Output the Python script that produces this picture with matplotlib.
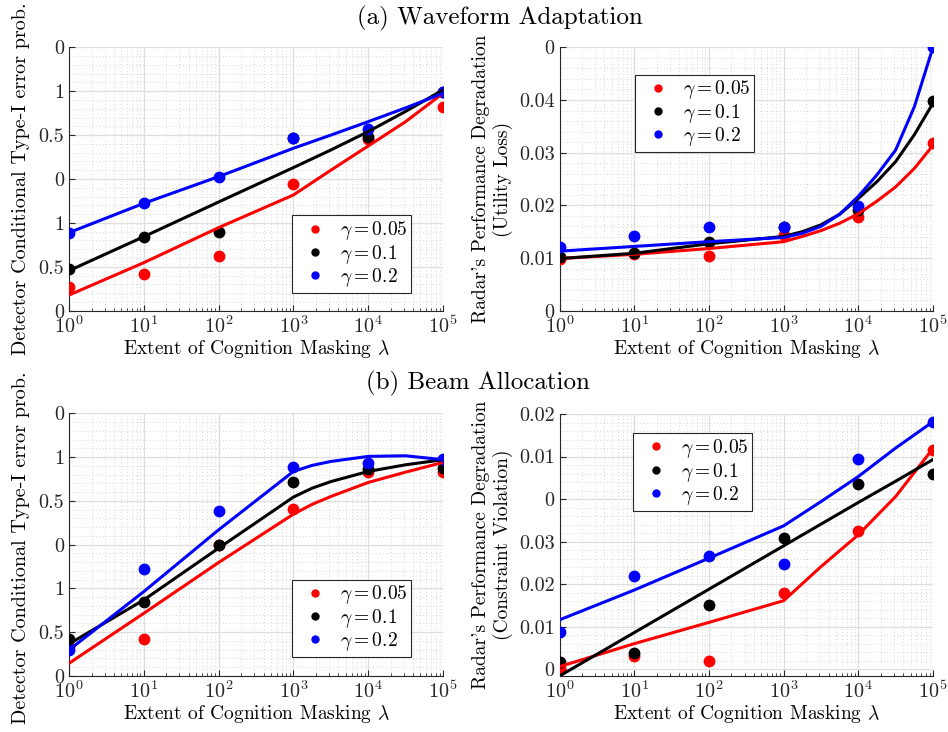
import numpy as np
import matplotlib
matplotlib.use("Agg")
import matplotlib.pyplot as plt
from matplotlib.lines import Line2D
from matplotlib.ticker import FixedLocator, AutoMinorLocator, LogLocator, NullFormatter

plt.rcParams['font.family'] = 'serif'
plt.rcParams['font.serif'] = ['cmr10']
plt.rcParams['mathtext.fontset'] = 'cm'
plt.rcParams['axes.formatter.use_mathtext'] = True

# gamma settings and their colours
gammas = [0.05, 0.1, 0.2]
colors = ['#ff0000', '#000000', '#0000ff']

# simulation points: lambda = 10^0 ... 10^5
pt_exp = [0, 1, 2, 3, 4, 5]

# (a) waveform adaptation, detector type-I error
wa_det_pts = [
    [0.0273, 0.0418, 0.0623, 0.1443, 0.195, 0.2316],
    [0.0471, 0.0843, 0.0892, 0.197, 0.198, 0.2495],
    [0.0889, 0.1223, 0.1527, 0.1971, 0.2066, 0.2495],
]
wa_det_fit_exp = [0, 1, 2, 3, 3.5, 4, 4.5, 5]
wa_det_fit = [
    [0.0178, 0.0547, 0.0946, 0.1318, 0.160, 0.1876, 0.2153, 0.2476],
    [0.0456, 0.0843, 0.1238, 0.163, 0.183, 0.204, 0.227, 0.2514],
    [0.0889, 0.1223, 0.1527, 0.185, 0.200, 0.2153, 0.231, 0.2476],
]

# (a) waveform adaptation, radar utility loss
wa_rad_pts = [
    [0.0098, 0.0107, 0.0104, 0.0144, 0.0177, 0.0319],
    [0.0102, 0.0110, 0.0130, 0.0158, 0.0192, 0.0399],
    [0.0120, 0.0142, 0.0159, 0.0159, 0.0199, 0.0500],
]
wa_rad_fit_exp = [0, 1, 2, 3, 3.25, 3.5, 3.75, 4, 4.25, 4.5, 4.75, 5]
wa_rad_fit = [
    [0.0099, 0.0107, 0.0118, 0.0131, 0.0141, 0.0152, 0.0166, 0.0184, 0.0208, 0.0235, 0.0270, 0.0314],
    [0.0099, 0.0109, 0.0127, 0.0141, 0.0150, 0.0163, 0.0183, 0.0213, 0.0245, 0.0283, 0.0334, 0.0394],
    [0.0113, 0.0122, 0.0131, 0.0139, 0.0147, 0.0160, 0.0183, 0.0217, 0.0258, 0.0305, 0.0387, 0.0500],
]

# (b) beam allocation, detector type-I error
ba_det_pts = [
    [0.0335, 0.0423, 0.1498, 0.1905, 0.2325, 0.2325],
    [0.0423, 0.085, 0.1498, 0.222, 0.236, 0.2374],
    [0.0297, 0.1223, 0.1879, 0.2382, 0.2431, 0.2477],
]
ba_det_fit_exp = [0, 1, 2, 3, 3.25, 3.5, 4, 4.5, 5]
ba_det_fit = [
    [0.0145, 0.0716, 0.1296, 0.1848, 0.196, 0.205, 0.221, 0.2328, 0.2439],
    [0.0366, 0.0869, 0.146, 0.2043, 0.2145, 0.222, 0.2336, 0.2412, 0.247],
    [0.0297, 0.0964, 0.1669, 0.2336, 0.2405, 0.245, 0.2508, 0.2515, 0.247],
]

# (b) beam allocation, radar constraint violation
ba_rad_pts = [
    [0.0002, 0.003, 0.002, 0.0179, 0.0325, 0.0515],
    [0.0016, 0.0039, 0.0151, 0.0308, 0.0435, 0.046],
    [0.0087, 0.0218, 0.0266, 0.0247, 0.0494, 0.0582],
]
ba_rad_fit_exp = [0, 1, 2, 3, 3.5, 4, 4.5, 5]
ba_rad_fit = [
    [0.0006, 0.006, 0.011, 0.0161, 0.0241, 0.0316, 0.0406, 0.0519],
    [-0.0016, 0.0086, 0.0188, 0.029, 0.0341, 0.0392, 0.0442, 0.0493],
    [0.0116, 0.0186, 0.0261, 0.0337, 0.0394, 0.0453, 0.052, 0.0582],
]

# y tick labels exactly as they appear (clipped in the original)
det_ticks = [0, 0.05, 0.1, 0.15, 0.2, 0.25, 0.3]
det_labels = ['0', '0.5', '1', '0', '0.5', '1', '0']
wa_rad_ticks = [0, 0.01, 0.02, 0.03, 0.04, 0.05]
wa_rad_labels = ['0', '0.01', '0.02', '0.03', '0.04', '0']
ba_rad_ticks = [0, 0.01, 0.02, 0.03, 0.04, 0.05, 0.06]
ba_rad_labels = ['0', '0.01', '0.02', '0.03', '0', '0.01', '0.02']

xlabel = r'Extent of Cognition Masking $\lambda$'
det_ylabel = 'Detector Conditional Type-I error prob.'

fig = plt.figure(figsize=(9.48, 7.32), dpi=100)
W, H = 948, 732


def make_ax(x0, y0, x1, y1):
    return fig.add_axes([x0 / W, 1 - y1 / H, (x1 - x0) / W, (y1 - y0) / H])


def draw_panel(ax, pts, fit_exp, fits, ylim, yticks, ylabels, ylabel, ylabel_size, leg_loc):
    xs = 10.0 ** np.array(pt_exp)
    for c, p in zip(colors, pts):
        ax.plot(xs, p, 'o', color=c, markersize=7.5, zorder=3)
    for c, f in zip(colors, fits):
        ax.plot(10.0 ** np.array(fit_exp), f, '-', color=c, lw=2.2, zorder=4)
    ax.set_xscale('log')
    ax.set_xlim(1, 1e5)
    ax.set_ylim(*ylim)
    ax.xaxis.set_major_locator(LogLocator(base=10, numticks=10))
    ax.xaxis.set_minor_locator(LogLocator(base=10, subs=np.arange(2, 10), numticks=20))
    ax.xaxis.set_minor_formatter(NullFormatter())
    ax.yaxis.set_major_locator(FixedLocator(yticks))
    ax.set_yticklabels(ylabels)
    ax.yaxis.set_minor_locator(AutoMinorLocator(5))
    ax.grid(True, which='major', color='#dedede', lw=0.9)
    ax.grid(True, which='minor', color='#c8c8c8', lw=0.6, ls=(0, (1, 3)))
    ax.set_axisbelow(True)
    for s in ['top', 'right']:
        ax.spines[s].set_visible(False)
    for s in ['left', 'bottom']:
        ax.spines[s].set_color('#262626')
        ax.spines[s].set_linewidth(0.8)
    ax.tick_params(which='both', direction='in', colors='#262626', labelsize=14.5)
    ax.tick_params(which='major', length=4)
    ax.tick_params(axis='x', which='minor', length=2.5)
    ax.tick_params(axis='y', which='minor', length=0)
    ax.tick_params(axis='x', pad=3)
    ax.set_xlabel(xlabel, fontsize=14, labelpad=1)
    ax.set_ylabel(ylabel, fontsize=ylabel_size, labelpad=4)
    handles = [Line2D([], [], ls='none', marker='o', color=c, markersize=5) for c in colors]
    labels = [r'$\gamma = %s$' % g for g in gammas]
    leg = ax.legend(handles, labels, loc=leg_loc, fontsize=14, fancybox=False,
                    edgecolor='#262626', framealpha=1, borderpad=0.2,
                    labelspacing=0.02, handletextpad=0.25, handlelength=2.0,
                    borderaxespad=0)
    leg.get_frame().set_linewidth(0.8)
    leg.set_zorder(6)


ax1 = make_ax(69, 47.3, 443, 310.7)
draw_panel(ax1, wa_det_pts, wa_det_fit_exp, wa_det_fit, (0, 0.3), det_ticks, det_labels,
           det_ylabel, 14.5, (0.596, 0.067))
ax1.yaxis.set_label_coords(-0.104, 0.5)
ax2 = make_ax(559.5, 47.3, 933, 310.7)
draw_panel(ax2, wa_rad_pts, wa_rad_fit_exp, wa_rad_fit, (0, 0.05), wa_rad_ticks, wa_rad_labels,
           "Radar's Performance Degradation\n(Utility Loss)", 14, (0.202, 0.602))
ax3 = make_ax(69, 413.3, 443, 676)
draw_panel(ax3, ba_det_pts, ba_det_fit_exp, ba_det_fit, (0, 0.3), det_ticks, det_labels,
           det_ylabel, 14.5, (0.596, 0.072))
ax3.yaxis.set_label_coords(-0.104, 0.49)
ax4 = make_ax(559.5, 414, 933, 676)
draw_panel(ax4, ba_rad_pts, ba_rad_fit_exp, ba_rad_fit, (-0.0016, 0.06), ba_rad_ticks, ba_rad_labels,
           "Radar's Performance Degradation\n(Constraint Violation)", 14, (0.197, 0.63))

fig.text(500 / W, 1 - 18 / H, '(a) Waveform Adaptation', ha='center', va='center', fontsize=18)
fig.text(478 / W, 1 - 383 / H, '(b) Beam Allocation', ha='center', va='center', fontsize=18)

fig.savefig('out.png', dpi=100)
